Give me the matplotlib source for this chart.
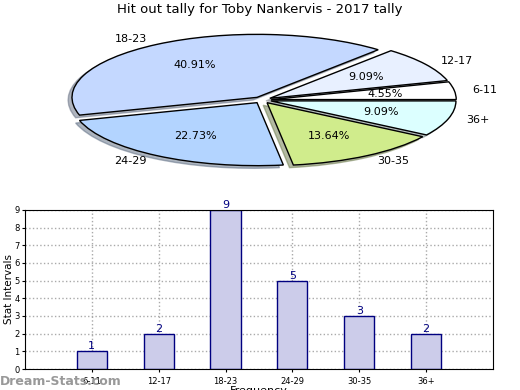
import matplotlib
matplotlib.use("Agg")
import matplotlib.pyplot as plt

categories = ["6-11", "12-17", "18-23", "24-29", "30-35", "36+"]
counts = [1, 2, 9, 5, 3, 2]
pie_colors = ["#ffffff", "#e8f0ff", "#c4d8ff", "#b3d4ff", "#d0ec8c", "#dcffff"]
title = "Hit out tally for Toby Nankervis - 2017 tally"

fig = plt.figure(figsize=(5.2, 3.9), dpi=100)
fig.text(0.5, 0.975, title, ha="center", va="center", fontsize=9.5)

# Pie
axp = fig.add_axes([0.0769, 0.5497, 0.854, 0.3877])
wedges, texts, autotexts = axp.pie(
    counts, labels=categories, colors=pie_colors, startangle=0,
    explode=[0.05] * len(counts),
    shadow=dict(ox=-0.015, oy=-0.03, shade=0.5),
    autopct="%.2f%%",
    pctdistance=0.62, labeldistance=1.1,
    wedgeprops=dict(edgecolor="black", linewidth=1.0),
    textprops=dict(fontsize=8))
axp.set_aspect("auto")
axp.set_xlim(-1.2, 1.2)
axp.set_ylim(-1.2, 1.2)
axp.axis("off")

# Bars
axb = fig.add_axes([0.048, 0.0538, 0.9, 0.408])
x = list(range(len(categories)))
axb.bar(x, counts, width=0.45, color="#ccccea", edgecolor="#000080", linewidth=1.0, zorder=2)
for xi, v in zip(x, counts):
    axb.text(xi, v, str(v), ha="center", va="bottom", color="#000080", fontsize=8, zorder=3)
axb.set_xlim(-1, 6)
axb.set_ylim(0, 9)
axb.set_xticks(x)
axb.set_xticklabels(categories, fontsize=6)
axb.set_yticks(range(10))
axb.tick_params(axis="y", labelsize=6, length=2, pad=2)
axb.tick_params(axis="x", length=2)
axb.grid(True, linestyle=":", color="#aaaaaa", linewidth=1.0, zorder=0)
axb.set_axisbelow(True)
axb.set_ylabel("Stat Intervals", fontsize=7.5, labelpad=0)
axb.set_xlabel("Frequency", fontsize=8, labelpad=0)

fig.text(0.0, 0.022, "Dream-Stats.com", ha="left", va="center", fontsize=9,
         color="#999999", fontweight="bold")

fig.savefig("out.png", dpi=100)
